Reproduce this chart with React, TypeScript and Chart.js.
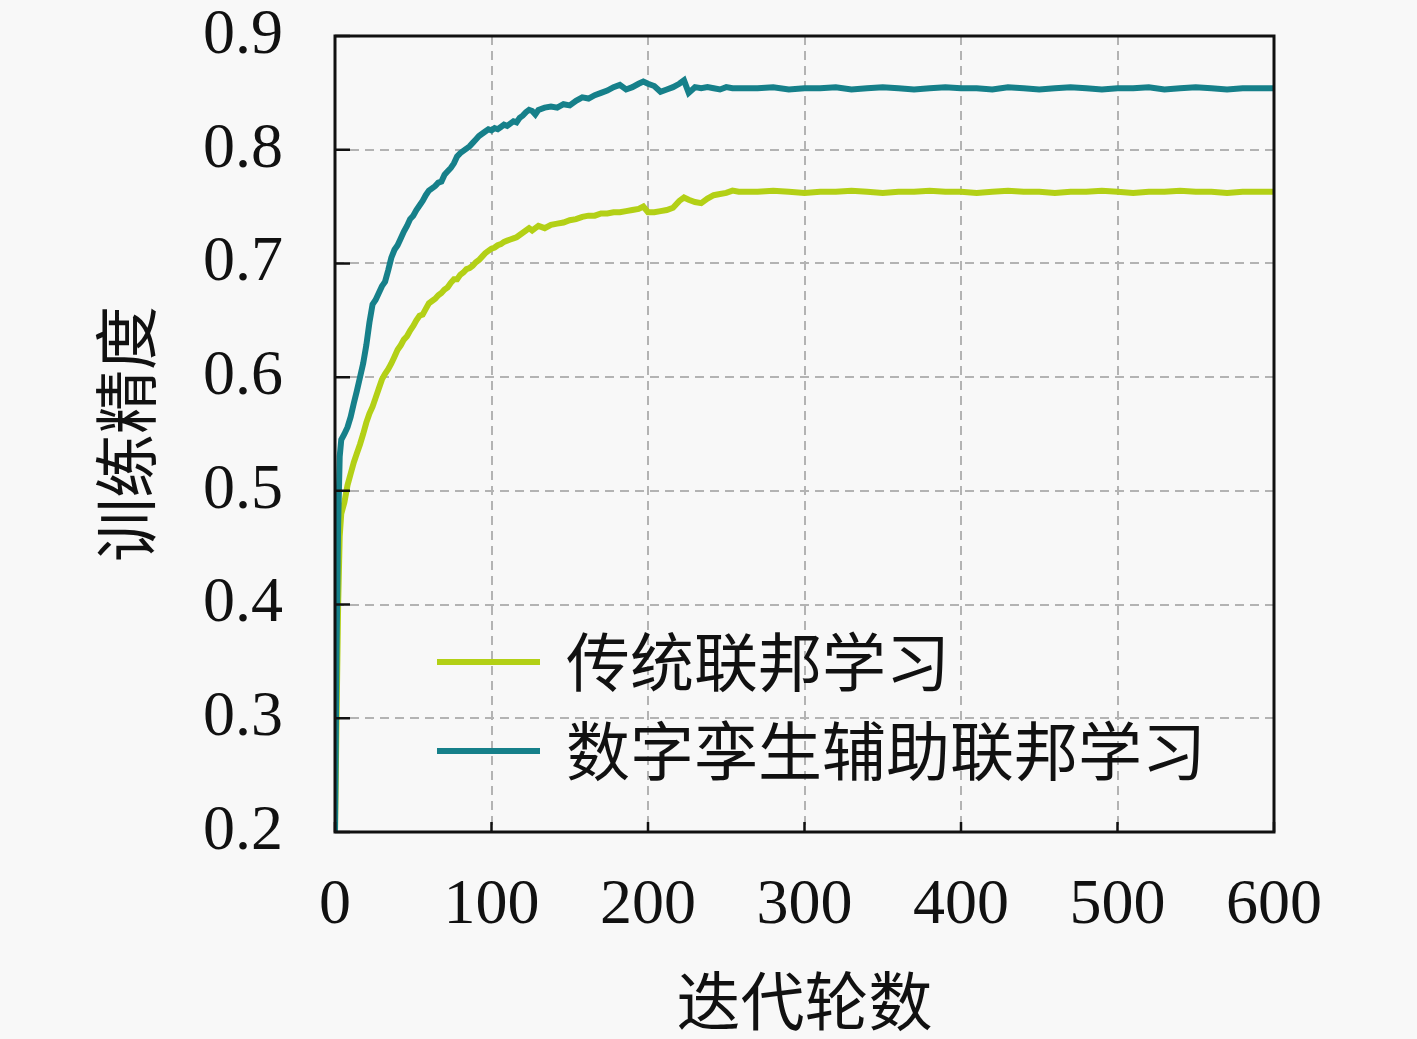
import { useEffect, useRef } from "react";
import { Chart, registerables } from "chart.js";

Chart.register(...registerables);

// iteration numbers shared by both series
const iterations = [
  0, 1, 2, 3, 4, 6, 8, 10, 12, 14, 16, 18, 20, 22, 24, 26, 28, 30, 32, 34, 36, 38, 40, 42, 44, 46, 48, 50,
  52, 54, 56, 58, 60, 62, 64, 66, 68, 70, 72, 74, 76, 78, 80, 82, 84, 86, 88, 90, 92, 94, 96, 98, 100,
  102, 104, 106, 108, 110, 112, 114, 116, 118, 120, 122, 124, 126, 128, 130, 134, 138, 142, 146, 150,
  154, 158, 162, 166, 170, 174, 178, 182, 186, 190, 194, 197, 200, 204, 208, 212, 216, 220, 223, 226,
  230, 234, 238, 242, 246, 250, 254, 258, 270, 280, 290, 300, 310, 320, 330, 340, 350, 360, 370, 380,
  390, 400, 410, 420, 430, 440, 450, 460, 470, 480, 490, 500, 510, 520, 530, 540, 550, 560, 570, 580,
  590, 600,
];

// 传统联邦学习
const traditionalAcc = [
  0.2, 0.3, 0.4, 0.46, 0.48, 0.49, 0.505, 0.515, 0.525, 0.533, 0.541, 0.55, 0.56, 0.568, 0.574, 0.582,
  0.59, 0.598, 0.603, 0.607, 0.612, 0.618, 0.624, 0.628, 0.633, 0.636, 0.641, 0.645, 0.65, 0.654, 0.655,
  0.66, 0.665, 0.667, 0.669, 0.672, 0.674, 0.677, 0.679, 0.683, 0.686, 0.686, 0.69, 0.692, 0.695, 0.696,
  0.698, 0.701, 0.703, 0.706, 0.709, 0.711, 0.713, 0.714, 0.716, 0.717, 0.719, 0.72, 0.721, 0.722, 0.723,
  0.725, 0.727, 0.729, 0.731, 0.729, 0.731, 0.733, 0.731, 0.734, 0.735, 0.736, 0.738, 0.739, 0.741,
  0.742, 0.742, 0.744, 0.744, 0.745, 0.745, 0.746, 0.747, 0.748, 0.75, 0.745, 0.745, 0.746, 0.747,
  0.749, 0.755, 0.758, 0.756, 0.754, 0.753, 0.757, 0.76, 0.761, 0.762, 0.764, 0.763, 0.763, 0.764,
  0.763, 0.762, 0.763, 0.763, 0.764, 0.763, 0.762, 0.763, 0.763, 0.764, 0.763, 0.763, 0.762, 0.763,
  0.764, 0.763, 0.763, 0.762, 0.763, 0.763, 0.764, 0.763, 0.762, 0.763, 0.763, 0.764, 0.763, 0.763,
  0.762, 0.763, 0.763, 0.763,
];

// 数字孪生辅助联邦学习
const twinAcc = [
  0.2, 0.36, 0.47, 0.53, 0.545, 0.55, 0.556, 0.565, 0.577, 0.588, 0.6, 0.612, 0.628, 0.648, 0.664, 0.668,
  0.674, 0.68, 0.684, 0.694, 0.705, 0.712, 0.716, 0.722, 0.728, 0.733, 0.739, 0.742, 0.747, 0.751, 0.755,
  0.76, 0.764, 0.766, 0.768, 0.771, 0.772, 0.778, 0.781, 0.784, 0.788, 0.794, 0.797, 0.799, 0.801, 0.803,
  0.806, 0.809, 0.812, 0.814, 0.816, 0.818, 0.817, 0.819, 0.818, 0.82, 0.822, 0.821, 0.823, 0.825, 0.824,
  0.828, 0.83, 0.833, 0.835, 0.834, 0.831, 0.835, 0.837, 0.838, 0.837, 0.84, 0.839, 0.843, 0.846, 0.845,
  0.848, 0.85, 0.852, 0.855, 0.857, 0.853, 0.855, 0.858, 0.86, 0.858, 0.856, 0.851, 0.853, 0.855, 0.858,
  0.861, 0.85, 0.855, 0.854, 0.855, 0.854, 0.853, 0.855, 0.854, 0.854, 0.854, 0.855, 0.853, 0.854,
  0.854, 0.855, 0.853, 0.854, 0.855, 0.854, 0.853, 0.854, 0.855, 0.854, 0.854, 0.853, 0.855, 0.854,
  0.853, 0.854, 0.855, 0.854, 0.853, 0.854, 0.854, 0.855, 0.853, 0.854, 0.855, 0.854, 0.853, 0.854,
  0.854, 0.854,
];

const seriesNames = ["传统联邦学习", "数字孪生辅助联邦学习"];
const xTicks = [0, 100, 200, 300, 400, 500, 600];
const yTicks = [0.2, 0.3, 0.4, 0.5, 0.6, 0.7, 0.8, 0.9];

const LIME = "#b3d016";
const TEAL = "#16808a";
const serif = "'Liberation Serif', 'DejaVu Serif', serif";
const cjk = "'Noto Sans CJK SC', sans-serif";

// frame, inward tick marks and the legend inside the plot
const framePlugin = {
  id: "frame",
  afterDraw(chart: any) {
    const { ctx, chartArea: a, scales } = chart;
    ctx.save();
    ctx.strokeStyle = "#111";
    ctx.lineWidth = 2.5;
    ctx.beginPath();
    yTicks.forEach((v) => {
      const y = scales.y.getPixelForValue(v);
      ctx.moveTo(a.left, y);
      ctx.lineTo(a.left + 15, y);
    });
    xTicks.forEach((v) => {
      const x = scales.x.getPixelForValue(v);
      ctx.moveTo(x, a.bottom);
      ctx.lineTo(x, a.bottom - 10);
    });
    ctx.stroke();
    ctx.lineWidth = 3;
    ctx.strokeRect(a.left, a.top, a.right - a.left, a.bottom - a.top);

    // legend
    const rows = [
      { label: seriesNames[0], color: LIME, y: 662 },
      { label: seriesNames[1], color: TEAL, y: 751 },
    ];
    ctx.font = `64px ${cjk}`;
    ctx.textBaseline = "middle";
    ctx.textAlign = "left";
    rows.forEach((r) => {
      ctx.strokeStyle = r.color;
      ctx.lineWidth = 6;
      ctx.beginPath();
      ctx.moveTo(437, r.y);
      ctx.lineTo(540, r.y);
      ctx.stroke();
      ctx.fillStyle = "#111";
      ctx.fillText(r.label, 566, r.y);
    });
    ctx.restore();
  },
};

export default function App() {
  const canvasRef = useRef<HTMLCanvasElement>(null);
  const chartRef = useRef<Chart | null>(null);

  useEffect(() => {
    if (!canvasRef.current) return;
    if (chartRef.current) chartRef.current.destroy();

    chartRef.current = new Chart(canvasRef.current, {
      type: "line",
      data: {
        labels: iterations,
        datasets: [
          {
            label: seriesNames[0],
            data: iterations.map((x, i) => ({ x, y: traditionalAcc[i] })),
            borderColor: LIME,
            backgroundColor: LIME,
            borderWidth: 6,
            pointRadius: 0,
            tension: 0,
            order: 1,
          },
          {
            label: seriesNames[1],
            data: iterations.map((x, i) => ({ x, y: twinAcc[i] })),
            borderColor: TEAL,
            backgroundColor: TEAL,
            borderWidth: 6,
            pointRadius: 0,
            tension: 0,
            order: 0,
          },
        ],
      },
      options: {
        animation: false,
        responsive: false,
        devicePixelRatio: 1,
        layout: { padding: { left: 0, top: 36, right: 143, bottom: 0 } },
        plugins: {
          legend: { display: false },
          tooltip: { enabled: false },
        },
        scales: {
          x: {
            type: "linear",
            min: 0,
            max: 600,
            afterBuildTicks: (s: any) => {
              s.ticks = xTicks.map((v) => ({ value: v }));
            },
            afterFit: (s: any) => {
              s.height = 207;
              s.paddingLeft = 0;
              s.paddingRight = 0;
            },
            ticks: {
              padding: 36,
              color: "#111",
              font: { family: serif, size: 64 },
              maxRotation: 0,
              callback: (v: any) => String(v),
            },
            grid: { color: "#b3b3b3", lineWidth: 2, drawTicks: false },
            border: { display: false, dash: [9, 6] },
            title: {
              display: true,
              text: "迭代轮数",
              color: "#111",
              font: { family: cjk, size: 64 },
              padding: { top: 0, bottom: 0 },
            },
          },
          y: {
            type: "linear",
            min: 0.2,
            max: 0.9,
            afterBuildTicks: (s: any) => {
              s.ticks = yTicks.map((v) => ({ value: v }));
            },
            afterFit: (s: any) => {
              s.width = 335;
              s.paddingTop = 0;
              s.paddingBottom = 0;
            },
            ticks: {
              padding: 52,
              color: "#111",
              font: { family: serif, size: 64 },
              callback: (v: any) => Number(v).toFixed(1),
            },
            grid: { color: "#b3b3b3", lineWidth: 2, drawTicks: false },
            border: { display: false, dash: [9, 6] },
            title: {
              display: true,
              text: "训练精度",
              color: "#111",
              font: { family: cjk, size: 64 },
              padding: { top: 87, bottom: 0 },
            },
          },
        },
      },
      plugins: [framePlugin],
    });

    return () => {
      if (chartRef.current) {
        chartRef.current.destroy();
        chartRef.current = null;
      }
    };
  }, []);

  return (
    <div
      style={{
        position: "absolute",
        left: 0,
        top: 0,
        width: 1417,
        height: 1039,
        background: "#f8f8f8",
      }}
    >
      <canvas ref={canvasRef} width={1417} height={1039}></canvas>
    </div>
  );
}
